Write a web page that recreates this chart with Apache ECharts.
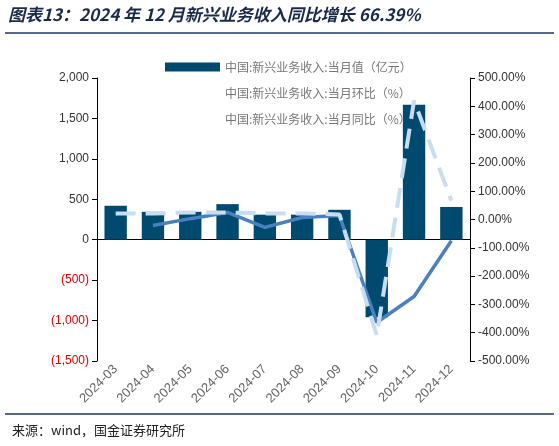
<!DOCTYPE html>
<html><head><meta charset="utf-8">
<script src="https://cdn.jsdelivr.net/npm/echarts@6/dist/echarts.min.js"></script>
<style>body{margin:0}#c{width:559px;height:446px}</style></head>
<body><div id="c"></div>
<script>
var months = ['2024-03','2024-04','2024-05','2024-06','2024-07','2024-08','2024-09','2024-10','2024-11','2024-12'];
var revenue = [420, 345, 345, 440, 310, 310, 370, -960, 1670, 405];
var mom = [null, -21, 3, 25, -28, 7, 14, -364, -272, -75];
var yoy = [21, 21, 25, 25, 21, 21, 18, -410, 420, 66.39];
var names = ['中国:新兴业务收入:当月值（亿元）','中国:新兴业务收入:当月环比（%）','中国:新兴业务收入:当月同比（%）'];

var chart = echarts.init(document.getElementById('c'));
chart.setOption({
  graphic: [
    {type:'text', left:8, top:6, style:{text:'图表13：2024 年 12 月新兴业务收入同比增长 66.39%', font:'italic bold 17px "Noto Sans CJK SC"', fill:'#1a2a4a'}},
    {type:'line', shape:{x1:5,y1:33,x2:554,y2:33}, style:{stroke:'#1f3864',lineWidth:1.5}},
    {type:'line', shape:{x1:5,y1:414,x2:554,y2:414}, style:{stroke:'#1f3864',lineWidth:1.5}},
    {type:'text', left:12, top:424, style:{text:'来源：wind，国金证券研究所', font:'13px "Noto Sans CJK SC"', fill:'#222'}}
  ],
  legend: {
    orient:'vertical', left:160, top:56, itemGap:14, itemWidth:55, itemHeight:9,
    textStyle:{color:'#777', fontSize:12, fontFamily:'Noto Sans CJK SC'},
    data: [{name:names[0], icon:'rect'}, {name:names[1], icon:'none'}, {name:names[2], icon:'none'}]
  },
  grid: {left:97, right:89, top:78, bottom:85},
  xAxis: {
    type:'category', data:months,
    axisLine:{onZero:true, lineStyle:{color:'#000'}}, axisTick:{show:false},
    axisLabel:{rotate:45, color:'#666', fontSize:13, interval:0, margin:6}
  },
  yAxis: [
    {type:'value', min:-1500, max:2000, interval:500, splitLine:{show:false},
     axisLine:{show:true, lineStyle:{color:'#000'}}, axisTick:{show:true},
     axisLabel:{fontSize:12, formatter:function(v){return v<0?'('+Math.abs(v).toLocaleString('en-US')+')':v.toLocaleString('en-US');},
       color:function(v){return v<0?'#e00000':'#333';}}},
    {type:'value', min:-500, max:500, interval:100, splitLine:{show:false},
     axisLine:{show:true, lineStyle:{color:'#000'}}, axisTick:{show:true},
     axisLabel:{fontSize:12, color:'#333', formatter:function(v){return v.toFixed(2)+'%';}}}
  ],
  series: [
    {name:names[0], type:'bar', data:revenue, barWidth:'60%', itemStyle:{color:'#004a70'}},
    {name:names[1], type:'line', yAxisIndex:1, data:mom, symbol:'none', lineStyle:{color:'#4a80c0', width:3.5}, itemStyle:{color:'#4a80c0'}},
    {name:names[2], type:'line', yAxisIndex:1, data:yoy, symbol:'none', lineStyle:{color:'#c9ddf0', width:4, type:[20,10]}, itemStyle:{color:'#c9ddf0'}}
  ]
});
</script></body></html>
